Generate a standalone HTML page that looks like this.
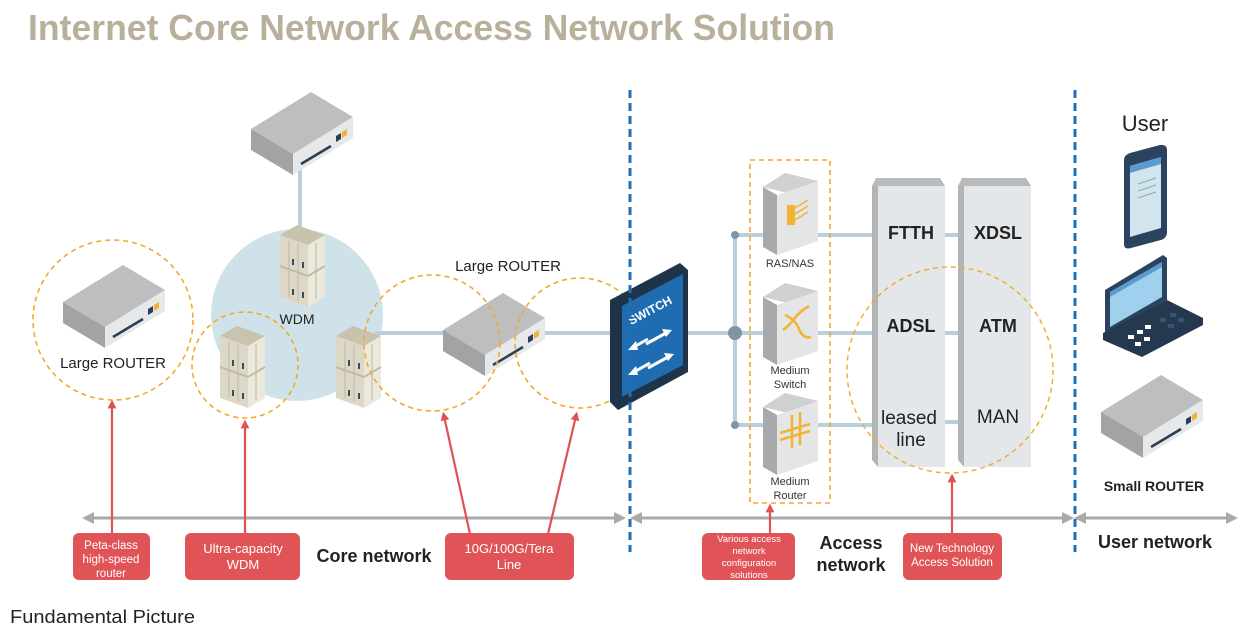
<!DOCTYPE html>
<html><head><meta charset="utf-8"><style>
html,body{margin:0;padding:0;background:#fff;}
svg{display:block;font-family:"Liberation Sans",sans-serif;}
</style></head><body>
<svg width="1250" height="630" viewBox="0 0 1250 630" xmlns="http://www.w3.org/2000/svg">
<defs>
<g id="router">
  <polygon points="0,0 -60,37 -18,62 42,25" fill="#bdbebf"/>
  <polygon points="-60,37 -18,62 -18,83 -60,58" fill="#a2a3a4"/>
  <polygon points="-18,62 42,25 42,46 -18,83" fill="#e6e8ea"/>
  <line x1="-10" y1="72" x2="20" y2="54" stroke="#2c3e55" stroke-width="2.5"/>
  <polygon points="25,44 30,41 30,47 25,50" fill="#2c3e55"/>
  <polygon points="31,40 36,37 36,43 31,46" fill="#f2b430"/>
</g>
<g id="rack">
  <polygon points="0,10 17,0 45,10 28,20" fill="#c9c3ae"/>
  <polygon points="0,10 28,20 28,82 0,72" fill="#ddd8c6"/>
  <polygon points="28,20 45,10 45,72 28,82" fill="#ebe8dc"/>
  <line x1="0" y1="41" x2="28" y2="51" stroke="#c2bca6" stroke-width="2"/>
  <line x1="28" y1="51" x2="45" y2="41" stroke="#c2bca6" stroke-width="2"/>
  <line x1="9" y1="16" x2="9" y2="72" stroke="#bdb7a2" stroke-width="1"/>
  <line x1="18" y1="19" x2="18" y2="76" stroke="#bdb7a2" stroke-width="1"/>
  <line x1="36" y1="18" x2="36" y2="74" stroke="#bdb7a2" stroke-width="1"/>
  <rect x="12" y="34" width="2" height="6" fill="#3a4a60"/>
  <rect x="22" y="37" width="2" height="6" fill="#3a4a60"/>
  <rect x="12" y="64" width="2" height="6" fill="#3a4a60"/>
  <rect x="22" y="67" width="2" height="6" fill="#3a4a60"/>
</g>
<g id="dev">
  <polygon points="0,14 22,0 55,8 33,22" fill="#cfd0d1"/>
  <polygon points="0,14 14,22 14,82 0,74" fill="#a8a9aa"/>
  <polygon points="14,22 55,8 55,68 14,82" fill="#e3e5e6"/>
</g>
<marker id="ga" viewBox="0 0 10 10" refX="5" refY="5" markerWidth="4" markerHeight="4" orient="auto-start-reverse"><path d="M0,0 L10,5 L0,10 z" fill="#a9aaaa"/></marker>
<marker id="ra" viewBox="0 0 10 10" refX="5" refY="5" markerWidth="4" markerHeight="4" orient="auto"><path d="M0,0 L10,5 L0,10 z" fill="#e05252"/></marker>
</defs>

<text x="28" y="40" font-size="36" font-weight="bold" fill="#b8b09a" textLength="807" lengthAdjust="spacingAndGlyphs">Internet Core Network Access Network Solution</text>

<circle cx="297" cy="315" r="86" fill="#cfe2ea"/>

<g stroke="#b8cfdc" stroke-width="4" fill="none">
<line x1="300" y1="165" x2="300" y2="232"/>
<line x1="375" y1="333" x2="615" y2="333"/>
<line x1="685" y1="333" x2="875" y2="333"/>
<line x1="735" y1="235" x2="735" y2="425"/>
<line x1="735" y1="235" x2="875" y2="235"/>
<line x1="735" y1="425" x2="875" y2="425"/>
<line x1="940" y1="235" x2="962" y2="235"/>
<line x1="940" y1="333" x2="962" y2="333"/>
<line x1="940" y1="422" x2="962" y2="422"/>
</g>
<circle cx="735" cy="235" r="4" fill="#7f95a6"/>
<circle cx="735" cy="333" r="7" fill="#7f95a6"/>
<circle cx="735" cy="425" r="4" fill="#7f95a6"/>

<use href="#router" x="311" y="92"/>
<use href="#router" x="123" y="265"/>
<use href="#router" x="503" y="293"/>
<use href="#router" x="1161" y="375"/>

<use href="#rack" x="280" y="225"/>
<use href="#rack" x="220" y="326"/>
<use href="#rack" x="336" y="326"/>

<text x="297" y="324" font-size="14" text-anchor="middle" fill="#222">WDM</text>
<text x="113" y="368" font-size="15" text-anchor="middle" fill="#222">Large ROUTER</text>
<text x="508" y="271" font-size="15" text-anchor="middle" fill="#222">Large ROUTER</text>

<g fill="none" stroke="#f0a92a" stroke-width="1.6" stroke-dasharray="5,4">
<circle cx="113" cy="320" r="80"/>
<circle cx="245" cy="365" r="53"/>
<circle cx="432" cy="343" r="68"/>
<circle cx="580" cy="343" r="65"/>
<rect x="750" y="160" width="80" height="343"/>
</g>

<polygon points="610,300 680,263 688,270 688,372 618,410 610,402" fill="#1f3449"/>
<polygon points="622,306 683,274 683,365 622,397" fill="#1f6db0"/>
<text x="652" y="314" font-size="12" font-weight="bold" fill="#fff" transform="rotate(-28 652 314)" text-anchor="middle">SWITCH</text>
<g stroke="#fff" stroke-width="3" fill="#fff">
<line x1="632" y1="348" x2="648" y2="339"/><polygon points="628,350 636,341 638,350" stroke="none"/>
<line x1="646" y1="344" x2="666" y2="333"/><polygon points="672,330 662,329 666,337" stroke="none"/>
<line x1="634" y1="372" x2="650" y2="363"/><polygon points="628,375 636,366 638,375" stroke="none"/>
<line x1="648" y1="368" x2="668" y2="357"/><polygon points="674,354 664,353 668,361" stroke="none"/>
</g>

<use href="#dev" x="763" y="173"/>
<use href="#dev" x="763" y="283"/>
<use href="#dev" x="763" y="393"/>
<g fill="#f2b430" stroke="#f2b430">
<rect x="787" y="205" width="8" height="20" stroke="none"/>
<line x1="795" y1="208" x2="808" y2="200" stroke-width="1.5"/><line x1="795" y1="214" x2="808" y2="206" stroke-width="1.5"/><line x1="795" y1="220" x2="808" y2="212" stroke-width="1.5"/>
<path d="M783,330 q8,-6 12,-12 t14,-12" fill="none" stroke-width="2.5"/>
<path d="M785,315 q10,4 14,14 t12,8" fill="none" stroke-width="2.5"/>
<g stroke-width="2.5"><line x1="792" y1="415" x2="792" y2="448"/><line x1="800" y1="412" x2="800" y2="445"/><line x1="780" y1="433" x2="810" y2="424"/><line x1="780" y1="440" x2="810" y2="431"/></g>
</g>
<g font-size="11" fill="#333" text-anchor="middle">
<text x="790" y="267">RAS/NAS</text>
<text x="790" y="374">Medium</text><text x="790" y="388">Switch</text>
<text x="790" y="485">Medium</text><text x="790" y="499">Router</text>
</g>

<polygon points="872,186 876,178 940,178 945,186" fill="#b9babb"/>
<polygon points="872,186 878,186 878,467 872,460" fill="#b3b4b5"/>
<rect x="878" y="186" width="67" height="281" fill="#e4e7e9"/>
<polygon points="958,186 962,178 1026,178 1031,186" fill="#b9babb"/>
<polygon points="958,186 964,186 964,467 958,460" fill="#b3b4b5"/>
<rect x="964" y="186" width="67" height="281" fill="#e4e7e9"/>
<g font-size="18" font-weight="bold" fill="#222" text-anchor="middle">
<text x="911" y="239">FTTH</text><text x="998" y="239">XDSL</text>
<text x="911" y="332">ADSL</text><text x="998" y="332">ATM</text>
</g>
<g font-size="19" fill="#222" text-anchor="middle">
<text x="909" y="424">leased</text><text x="911" y="446">line</text>
<text x="998" y="423">MAN</text>
</g>
<circle cx="950" cy="370" r="103" fill="none" stroke="#f0a92a" stroke-width="1.4" stroke-dasharray="5,4"/>

<g stroke="#1f6fb5" stroke-width="3" stroke-dasharray="8,5">
<line x1="630" y1="90" x2="630" y2="552"/>
<line x1="1075" y1="90" x2="1075" y2="552"/>
</g>

<text x="1145" y="131" font-size="22" text-anchor="middle" fill="#222">User</text>
<path d="M1124,160 Q1124,155 1130,153 L1160,145 Q1167,144 1167,150 L1167,232 Q1167,238 1161,240 L1131,248 Q1124,250 1124,244 Z" fill="#2c4360"/>
<polygon points="1130,166 1161,157 1161,228 1130,237" fill="#d2e4ee"/>
<polygon points="1130,166 1161,157 1161,164 1130,173" fill="#5a9bd0"/>
<g stroke="#8aa" stroke-width="1"><line x1="1138" y1="184" x2="1156" y2="178"/><line x1="1138" y1="191" x2="1156" y2="185"/><line x1="1138" y1="198" x2="1156" y2="192"/></g>
<polygon points="1105,290 1163,255 1167,258 1167,300 1105,334" fill="#2c4360"/>
<polygon points="1110,292 1162,262 1162,297 1110,327" fill="#9fd1ef"/>
<polygon points="1110,292 1162,262 1162,267 1110,297" fill="#5a9bd0"/>
<polygon points="1103,333 1167,300 1203,318 1203,325 1142,357 1103,340" fill="#24384f"/>
<g fill="#fff"><rect x="1128" y="335" width="6" height="4"/><rect x="1137" y="330" width="6" height="4"/><rect x="1135" y="342" width="6" height="4"/><rect x="1144" y="337" width="6" height="4"/><rect x="1145" y="325" width="6" height="4"/></g>
<g fill="#3b5371"><rect x="1160" y="318" width="6" height="4"/><rect x="1170" y="313" width="6" height="4"/><rect x="1168" y="324" width="6" height="4"/><rect x="1178" y="318" width="6" height="4"/></g>
<text x="1154" y="491" font-size="14" font-weight="bold" text-anchor="middle" fill="#222">Small ROUTER</text>

<g stroke="#a9aaaa" stroke-width="3">
<line x1="88" y1="518" x2="620" y2="518" marker-start="url(#ga)" marker-end="url(#ga)"/>
<line x1="636" y1="518" x2="1068" y2="518" marker-start="url(#ga)" marker-end="url(#ga)"/>
<line x1="1080" y1="518" x2="1232" y2="518" marker-start="url(#ga)" marker-end="url(#ga)"/>
</g>

<g stroke="#e05252" stroke-width="2.2" marker-end="url(#ra)">
<line x1="112" y1="534" x2="112" y2="404"/>
<line x1="245" y1="534" x2="245" y2="424"/>
<line x1="470" y1="534" x2="444" y2="416"/>
<line x1="548" y1="534" x2="576" y2="416"/>
<line x1="770" y1="534" x2="770" y2="508"/>
<line x1="952" y1="534" x2="952" y2="478"/>
</g>
<g fill="#e05457">
<rect x="73" y="533" width="77" height="47" rx="6"/>
<rect x="185" y="533" width="115" height="47" rx="6"/>
<rect x="445" y="533" width="129" height="47" rx="6"/>
<rect x="702" y="533" width="93" height="47" rx="6"/>
<rect x="903" y="533" width="99" height="47" rx="6"/>
</g>
<g fill="#fff" text-anchor="middle">
<text font-size="11.5" x="111" y="549">Peta-class</text><text font-size="11.5" x="111" y="563">high-speed</text><text font-size="11.5" x="111" y="577">router</text>
<text font-size="13" x="243" y="553">Ultra-capacity</text><text font-size="13" x="243" y="569">WDM</text>
<text font-size="13" x="509" y="553">10G/100G/Tera</text><text font-size="13" x="509" y="569">Line</text>
<text font-size="9.5" x="749" y="542">Various access</text><text font-size="9.5" x="749" y="554">network</text><text font-size="9.5" x="749" y="566">configuration</text><text font-size="9.5" x="749" y="578">solutions</text>
<text font-size="11.5" x="952" y="552">New Technology</text><text font-size="11.5" x="952" y="566">Access Solution</text>
</g>
<g font-weight="bold" fill="#222" text-anchor="middle" font-size="18">
<text x="374" y="562">Core network</text>
<text x="851" y="549">Access</text><text x="851" y="571">network</text>
<text x="1155" y="548">User network</text>
</g>
<text x="10" y="623" font-size="18" fill="#222" textLength="185" lengthAdjust="spacingAndGlyphs">Fundamental Picture</text>
</svg>
</body></html>
